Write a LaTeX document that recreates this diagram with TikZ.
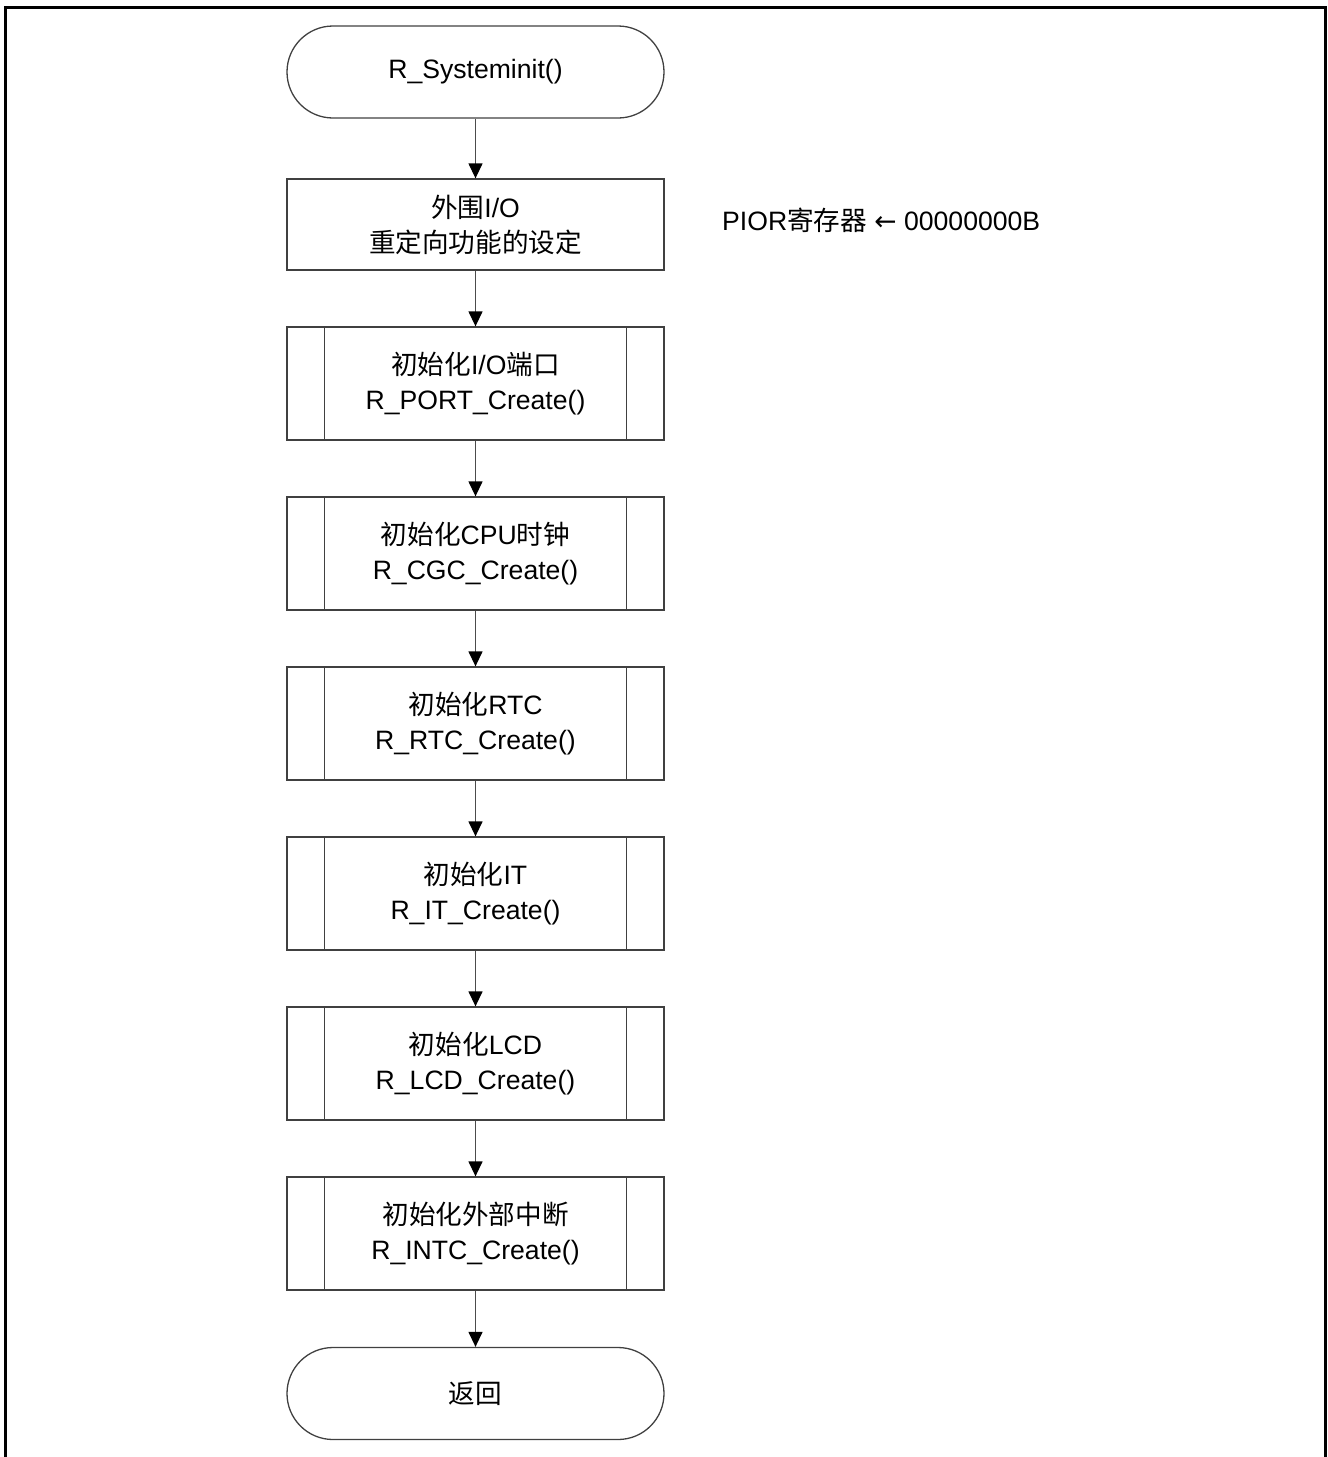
\documentclass[tikz,border=0pt]{standalone}
\usepackage{fontspec}
\setmainfont{Liberation Sans}
\newfontfamily\cjk{Noto Sans CJK SC}
\newfontfamily\symf{DejaVu Sans}
\usetikzlibrary{arrows.meta}
\begin{document}
\begin{tikzpicture}[x=1pt,y=-1pt,
  every node/.style={font=\fontsize{26.6}{35}\selectfont, align=center, inner sep=0pt},
  lineclr/.style={draw=black!75, line width=1.3pt},
  term/.style={lineclr, rounded corners=46pt, minimum width=377pt, minimum height=92pt},
  procbox/.style={lineclr, minimum width=377pt, minimum height=91pt},
  subbox/.style={lineclr, minimum width=377pt, minimum height=113pt},
  flow/.style={draw=black!70, line width=1.3pt, -{Triangle[length=15pt,width=14pt,color=black]}}
]
\useasboundingbox (0,0) rectangle (1328,1457);
\draw[line width=3pt] (5,1457) -- (5,7) -- (1325,7) -- (1325,1457);

\node[term] (start) at (475.5,72) {R\_Systeminit()};
\node[procbox] (p1) at (475.5,224.5) {{\cjk 外围}I/O\\{\cjk 重定向功能的设定}};
\node[subbox] (s1) at (475.5,383.5) {{\cjk 初始化}I/O{\cjk 端口}\\R\_PORT\_Create()};
\node[subbox] (s2) at (475.5,553.5) {{\cjk 初始化}CPU{\cjk 时钟}\\R\_CGC\_Create()};
\node[subbox] (s3) at (475.5,723.5) {{\cjk 初始化}RTC\\R\_RTC\_Create()};
\node[subbox] (s4) at (475.5,893.5) {{\cjk 初始化}IT\\R\_IT\_Create()};
\node[subbox] (s5) at (475.5,1063.5) {{\cjk 初始化}LCD\\R\_LCD\_Create()};
\node[subbox] (s6) at (475.5,1233.5) {{\cjk 初始化外部中断}\\R\_INTC\_Create()};
\node[term] (stop) at (475.5,1393.5) {{\cjk 返回}};

\node[anchor=west] (note) at (722,220) {PIOR{\cjk 寄存器} {\symf ←} 00000000B};

\foreach \n in {s1,s2,s3,s4,s5,s6}{
  \draw[lineclr] ([xshift=38pt]\n.north west) -- ([xshift=38pt]\n.south west);
  \draw[lineclr] ([xshift=-38pt]\n.north east) -- ([xshift=-38pt]\n.south east);
}

\draw[flow] (start) -- (p1);
\draw[flow] (p1) -- (s1);
\draw[flow] (s1) -- (s2);
\draw[flow] (s2) -- (s3);
\draw[flow] (s3) -- (s4);
\draw[flow] (s4) -- (s5);
\draw[flow] (s5) -- (s6);
\draw[flow] (s6) -- (stop);
\end{tikzpicture}
\end{document}
